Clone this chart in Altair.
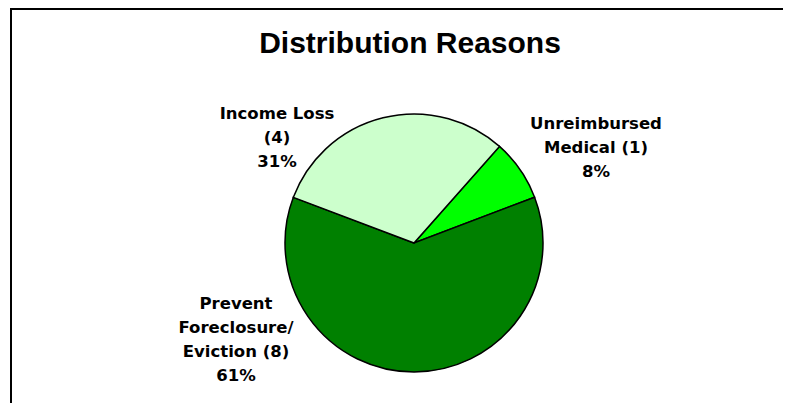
import math
import altair as alt
import pandas as pd

# ---- data ----
categories = ["Unreimbursed Medical", "Prevent Foreclosure/Eviction", "Income Loss"]
counts = [1, 8, 4]
percents = [8, 61, 31]
label_lines = [
    "Unreimbursed\nMedical (1)\n8%",
    "Prevent\nForeclosure/\nEviction (8)\n61%",
    "Income Loss\n(4)\n31%",
]
colors = ["#00FF00", "#008000", "#CCFFCC"]
title_text = "Distribution Reasons"

df = pd.DataFrame({
    "category": categories,
    "count": counts,
    "pct": percents,
    "label": label_lines,
    "idx": list(range(len(categories))),
})

W, H = 775, 395
CX, CY, R = 406, 235, 129
start = math.radians(41.5)

theta_scale = alt.Scale(range=[start, start + 2 * math.pi], zero=True)
color_scale = alt.Scale(domain=categories, range=colors)

base = alt.Chart(df)

pie = base.mark_arc(radius=R, stroke="black", strokeWidth=1.5).encode(
    theta=alt.Theta("count:Q", stack=True, scale=theta_scale),
    color=alt.Color("category:N", scale=color_scale, legend=None),
    order=alt.Order("idx:Q"),
    x=alt.value(CX),
    y=alt.value(CY),
)

label_base = base.transform_window(
    cum="sum(count)", sort=[alt.SortField("idx")], frame=[None, 0]
).transform_calculate(mid="datum.cum - datum.count / 2")

label_style = dict(
    align="center", baseline="middle", lineBreak="\n", lineHeight=24,
    font="DejaVu Sans", fontWeight="bold", fontSize=16.5, color="black",
)
offsets = [(58.6, -33.7), (-178.1, -89), (-101, 17.1)]
label_layers = []
for i, (dx, dy) in enumerate(offsets):
    label_layers.append(
        label_base.transform_filter(f"datum.idx == {i}")
        .mark_text(radius=150, dx=dx, dy=dy, **label_style)
        .encode(
            theta=alt.Theta("mid:Q", stack=False, scale=theta_scale),
            text=alt.Text("label:N"),
            x=alt.value(CX),
            y=alt.value(CY),
        )
    )

title = alt.Chart(alt.Data(values=[{"t": title_text}])).mark_text(
    font="Liberation Sans", fontWeight="bold", fontSize=30, color="black",
    align="center", baseline="alphabetic",
).encode(text="t:N", x=alt.value(402), y=alt.value(45))

frame_data = alt.Data(values=[{"k": 0}])
frame_top = alt.Chart(frame_data).mark_rule(color="black", strokeWidth=2).encode(
    x=alt.value(3), x2=alt.value(W), y=alt.value(1)
)
frame_left = alt.Chart(frame_data).mark_rule(color="black", strokeWidth=2).encode(
    x=alt.value(3), y=alt.value(0), y2=alt.value(H)
)

chart = alt.layer(pie, *label_layers, title, frame_top, frame_left).properties(
    width=W, height=H, padding=0, autosize=alt.AutoSizeParams(type="none"),
    background="white",
).configure_view(stroke=None)

chart.save("out.html", embed_options={"renderer": "svg", "actions": False})
